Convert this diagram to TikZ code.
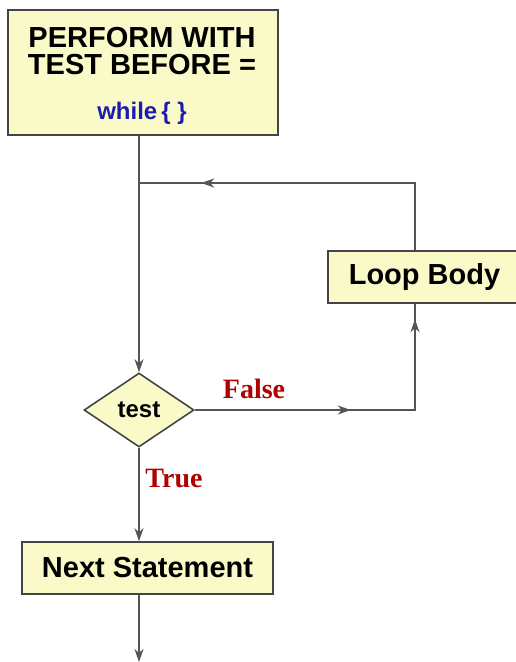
\documentclass[tikz,border=0pt]{standalone}
\usepackage{fontspec}
\setmainfont{Liberation Sans}
\newfontfamily\labelfont{Liberation Serif}
\usetikzlibrary{shapes.geometric,arrows.meta,decorations.markings}

\definecolor{boxfill}{HTML}{FAFAC9}
\definecolor{edgegray}{HTML}{454545}
\definecolor{flowgray}{HTML}{555555}
\definecolor{branchred}{HTML}{B00000}
\definecolor{keyblue}{HTML}{1C1CB0}

\tikzset{
  flowtip/.tip={Stealth[length=13pt,width=9pt,inset=4pt]},
  box/.style={draw=edgegray, line width=1.6pt, fill=boxfill, inner sep=0pt,
    align=center, font=\fontsize{29}{27}\selectfont\bfseries},
  decision/.style={diamond, aspect=1.5, draw=edgegray, line width=1.6pt,
    fill=boxfill, inner sep=0pt, minimum width=110pt, minimum height=74pt,
    font=\fontsize{24}{26}\selectfont\bfseries},
  flow/.style={draw=flowgray, line width=1.6pt},
  branch/.style={text=branchred, font=\labelfont\fontsize{28}{28}\selectfont\bfseries},
  midtip/.style={postaction={decorate}, decoration={markings,
    mark=at position #1 with {\arrow[flowgray]{flowtip}}}},
  midtips/.style 2 args={postaction={decorate}, decoration={markings,
    mark=at position #1 with {\arrow[flowgray]{flowtip}},
    mark=at position #2 with {\arrow[flowgray]{flowtip}}}}
}

\begin{document}
\begin{tikzpicture}[x=1pt, y=-1pt]
  \useasboundingbox (0,0) rectangle (515,662);

  % boxes
  \node[box, minimum width=270pt, minimum height=125pt] (perform) at (143,72.5) {};
  \node[font=\fontsize{29}{27}\selectfont\bfseries, align=center, inner sep=0pt]
    (performtxt) at (142,76)
    {PERFORM WITH\\TEST BEFORE =\\[18pt]{\fontsize{24}{26}\selectfont\color{keyblue}while\,\{ \}}};
  \node[box, minimum width=193pt, minimum height=52pt] (body) at (424.5,277) {Loop Body};
  \node[decision] (test) at (139,410) {test};
  \node[box, minimum width=251pt, minimum height=52pt] (next) at (147.5,568) {Next Statement};

  % helper points
  \coordinate (spine) at (139,0);
  \coordinate (loopx) at (415,0);
  \coordinate (join) at (139,183);
  \coordinate (exit) at (139,662);

  % main line
  \draw[flow, -{flowtip}] (perform.south -| spine) -- (test.north);
  \draw[flow, -{flowtip}] (test.south) -- (next.north -| spine);
  \draw[flow, -{flowtip}] (next.south -| spine) -- (exit);

  % loop back
  \draw[flow, midtip=281pt] (body.north -| loopx) -- (join -| loopx) -- (join);
  \draw[flow, midtips={156pt}{311pt}] (test.east) -- (test.east -| loopx) -- (body.south -| loopx);

  % branch labels
  \node[branch] (falselbl) at (254,389) {False};
  \node[branch] (truelbl) at (174,478) {True};
\end{tikzpicture}
\end{document}
